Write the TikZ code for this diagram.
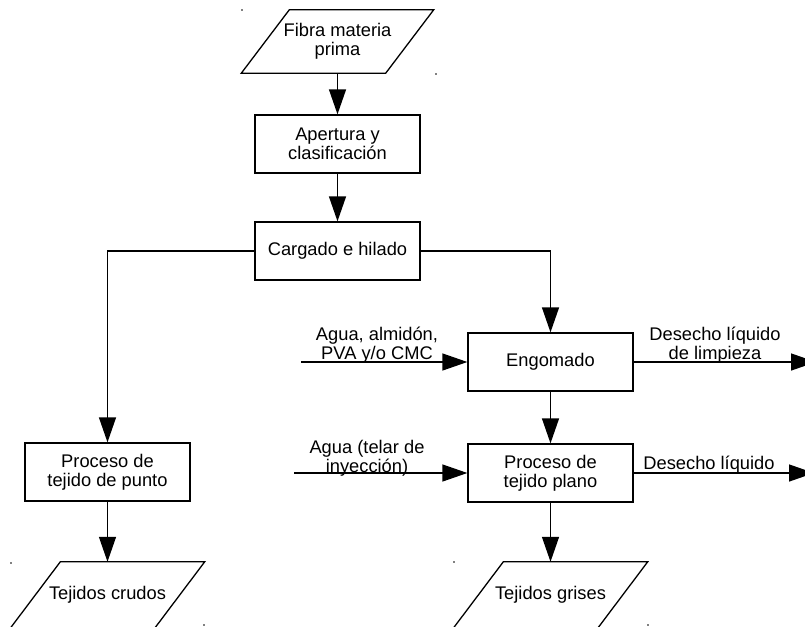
\documentclass[tikz,border=0pt]{standalone}
\usepackage{fontspec}
\setmainfont{Liberation Sans}
\usetikzlibrary{arrows.meta}
\begin{document}
\begin{tikzpicture}[x=1pt,y=-1pt,
  font=\fontsize{18.3}{19}\selectfont,
  box/.style={draw,line width=1.3pt,rectangle,minimum width=165pt,minimum height=58pt,align=center,inner sep=2pt},
  io/.style={rectangle,minimum width=144pt,minimum height=63pt,align=center,inner sep=1pt},
  iolow/.style={io,minimum height=66pt},
  ioedge/.style={line width=1.3pt,line join=miter},
  lbl/.style={align=center,inner sep=0pt},
  flow/.style={line width=1.3pt,-{Triangle[length=25pt,width=17pt]}},
  dot/.style={circle,fill,inner sep=0pt,minimum size=1.8pt}]
\useasboundingbox (0,0) rectangle (805,626);
% nodes
\node[io] (fibra) at (337.5,41.5) {Fibra materia\\prima};
\node[box] (apert) at (337.5,144) {Apertura y\\clasificación};
\node[box] (carg) at (337.5,251) {Cargado e hilado};
\node[box] (punto) at (107.5,472) {Proceso de\\tejido de punto};
\node[box] (engo) at (550.5,362) {Engomado};
\node[box] (plano) at (550.5,473) {Proceso de\\tejido plano};
\node[iolow] (crudos) at (107.5,595) {Tejidos crudos};
\node[iolow] (grises) at (550.5,595) {Tejidos grises};
% parallelogram outlines of the data nodes
\draw[ioedge] ([xshift=24pt]fibra.north west) -- ([xshift=24pt]fibra.north east)
   -- ([xshift=-24pt]fibra.south east) -- ([xshift=-24pt]fibra.south west) -- cycle;
\foreach \n in {crudos,grises}
  \draw[ioedge] ([xshift=25pt]\n.north west) -- ([xshift=25pt]\n.north east)
     -- ([xshift=-25pt]\n.south east) -- ([xshift=-25pt]\n.south west) -- cycle;
% free ends
\coordinate (in1) at (301,362);
\coordinate (in2) at (294,473);
\coordinate (out1) at (816,362);
\coordinate (out2) at (814,473);
% connectors
\draw[flow] (fibra.south) -- (apert.north);
\draw[flow] (apert.south) -- (carg.north);
\draw[flow] (carg.west) -| (punto.north);
\draw[flow] (carg.east) -| (engo.north);
\draw[flow] (engo.south) -- (plano.north);
\draw[flow] (punto.south) -- (crudos.north);
\draw[flow] (plano.south) -- (grises.north);
\draw[flow] (in1) -- (engo.west);
\draw[flow] (in2) -- (plano.west);
\draw[flow] (engo.east) -- (out1);
\draw[flow] (plano.east) -- (out2);
% labels
\node[lbl] (l1) at (377,345) {Agua, almidón,\\PVA y/o CMC};
\node[lbl] (l2) at (367,458) {Agua (telar de\\inyección)};
\node[lbl] (l3) at (715,345) {Desecho líquido\\de limpieza};
\node[lbl] (l4) at (709,465) {Desecho líquido};
% corner marks
\node[dot] (d1) at (242,10) {};
\node[dot] (d2) at (436,74) {};
\node[dot] (d3) at (11,563) {};
\node[dot] (d4) at (204,625) {};
\node[dot] (d5) at (454,562) {};
\node[dot] (d6) at (648,625) {};
\end{tikzpicture}
\end{document}
